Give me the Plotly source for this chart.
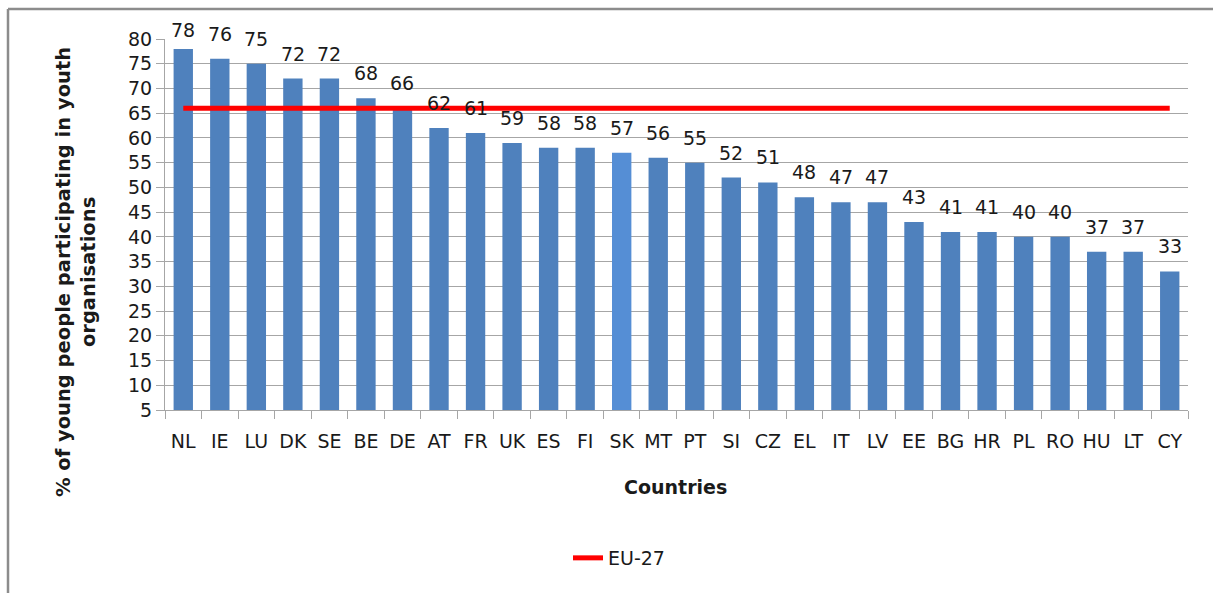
import plotly.graph_objects as go

# Share of young people participating in youth organisations, by country
countries = ["NL", "IE", "LU", "DK", "SE", "BE", "DE", "AT", "FR", "UK", "ES", "FI", "SK", "MT",
             "PT", "SI", "CZ", "EL", "IT", "LV", "EE", "BG", "HR", "PL", "RO", "HU", "LT", "CY"]
values = [78, 76, 75, 72, 72, 68, 66, 62, 61, 59, 58, 58, 57, 56,
          55, 52, 51, 48, 47, 47, 43, 41, 41, 40, 40, 37, 37, 33]
eu27_average = 66
highlight = "SK"

y_ticks = list(range(5, 81, 5))

W, H = 1213, 593
L, R, T, B = 165, 25, 39, 183
plot_h = H - T - B
FONT = "DejaVu Sans, Verdana, sans-serif"
TXT = "#1a1a1a"
GRID = "#a6a6a6"
FS = 19

bar_colors = ["#558ED5" if c == highlight else "#4F81BD" for c in countries]

fig = go.Figure()
fig.add_trace(go.Bar(
    x=countries, y=values, marker=dict(color=bar_colors, line=dict(width=0)),
    showlegend=False, hoverinfo="x+y",
))
fig.add_trace(go.Scatter(
    x=countries, y=[eu27_average] * len(countries), mode="lines",
    line=dict(color="#FF0000", width=5), name="EU-27",
))

# value labels above each bar, kept inside the chart frame near the top
ymin, ymax = 5, 80
for c, v in zip(countries, values):
    top_px = T + (ymax - v) / (ymax - ymin) * plot_h
    shift = min(25, top_px - 30)
    fig.add_annotation(x=c, y=v, text=str(v), showarrow=False, yshift=shift,
                       xanchor="center", yanchor="middle",
                       font=dict(family=FONT, size=FS, color=TXT))

# y-axis title (two lines, rotated)
fig.add_annotation(xref="paper", yref="paper",
                   x=(76 - L) / (W - L - R), y=(H - B - 272) / plot_h,
                   text="<b>% of young people participating in youth<br>organisations</b>",
                   textangle=-90, showarrow=False, xanchor="center", yanchor="middle",
                   font=dict(family=FONT, size=19.5, color=TXT))

# x-axis title
fig.add_annotation(xref="paper", yref="paper",
                   x=(675 - L) / (W - L - R), y=(H - B - 487) / plot_h,
                   text="<b>Countries</b>", showarrow=False,
                   xanchor="center", yanchor="middle",
                   font=dict(family=FONT, size=FS, color=TXT))

# outer chart frame
def px_x(p):
    return (p - L) / (W - L - R)

def px_y(p):
    return (H - B - p) / plot_h

frame = dict(color="#8c8c8c", width=2.5)
fig.add_shape(type="line", xref="paper", yref="paper",
              x0=px_x(8), x1=px_x(8), y0=px_y(9), y1=px_y(620), line=frame)
fig.add_shape(type="line", xref="paper", yref="paper",
              x0=px_x(8), x1=px_x(1230), y0=px_y(9), y1=px_y(9), line=frame)

fig.update_layout(
    width=W, height=H,
    margin=dict(l=L, r=R, t=T, b=B),
    paper_bgcolor="white", plot_bgcolor="white",
    bargap=0.47,
    font=dict(family=FONT, size=FS, color=TXT),
    showlegend=True,
    legend=dict(orientation="h", x=px_x(568), y=px_y(558), xanchor="left", yanchor="middle",
                font=dict(family=FONT, size=FS, color=TXT), bgcolor="rgba(0,0,0,0)",
                itemwidth=30),
    xaxis=dict(
        type="category", showline=True, linecolor=GRID, linewidth=1,
        ticks="outside", tickson="boundaries", ticklen=8, tickcolor=GRID,
        tickangle=0, ticklabelstandoff=14,
        tickfont=dict(family=FONT, size=FS, color=TXT), showgrid=False,
    ),
    yaxis=dict(
        range=[ymin, ymax], tickmode="array", tickvals=y_ticks,
        showline=True, linecolor=GRID, linewidth=1,
        ticks="outside", ticklen=8, tickcolor=GRID,
        showgrid=True, gridcolor=GRID, gridwidth=1,
        tickfont=dict(family=FONT, size=FS, color=TXT),
        zeroline=False,
    ),
)

fig.write_html("out.html")
